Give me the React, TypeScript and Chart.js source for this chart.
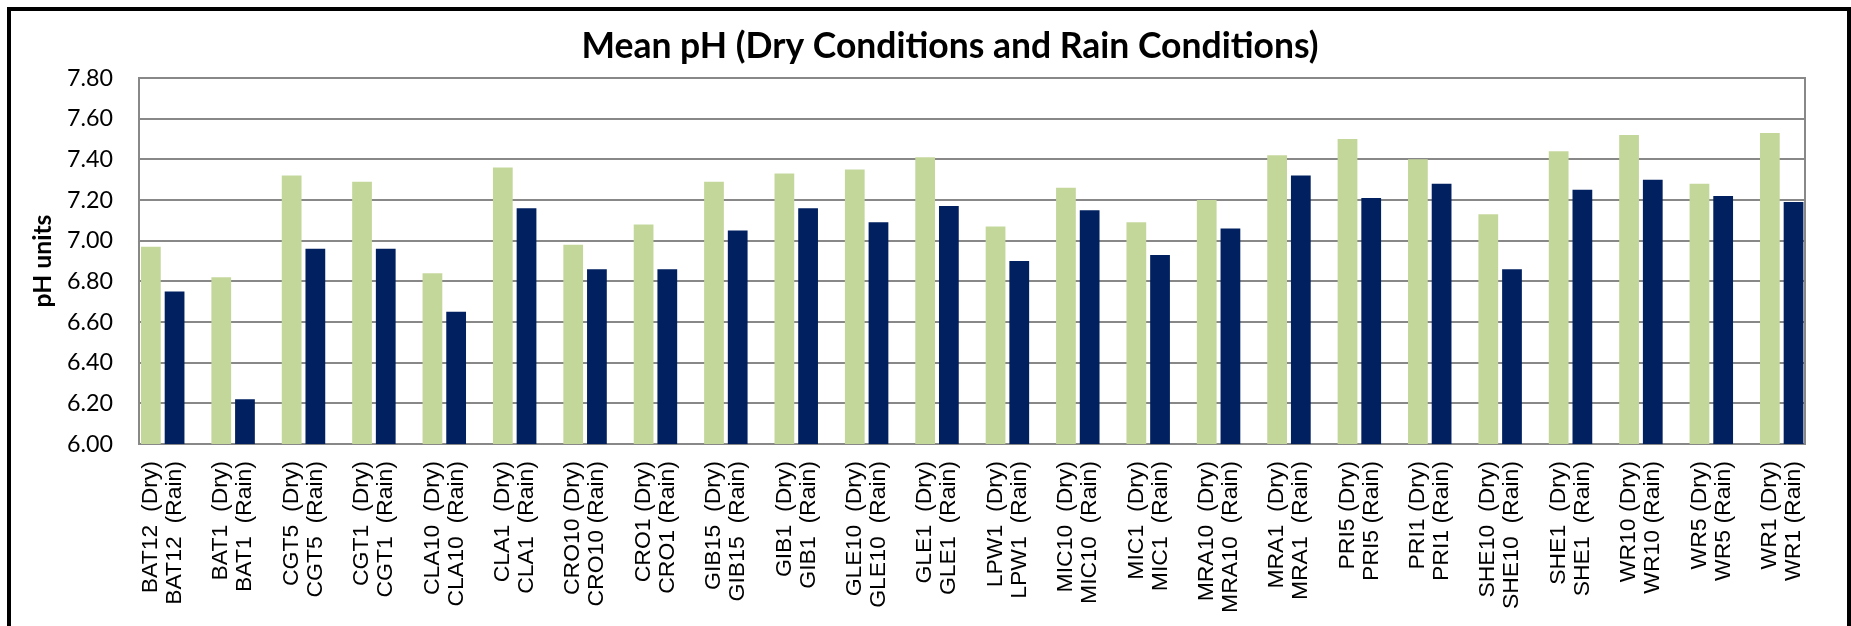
import React, { useEffect, useRef } from 'react';
import { Chart, registerables } from 'chart.js';

Chart.register(...registerables);

const sites = ['BAT12', 'BAT1', 'CGT5', 'CGT1', 'CLA10', 'CLA1', 'CRO10', 'CRO1', 'GIB15', 'GIB1', 'GLE10', 'GLE1', 'LPW1', 'MIC10', 'MIC1', 'MRA10', 'MRA1', 'PRI5', 'PRI1', 'SHE10', 'SHE1', 'WR10', 'WR5', 'WR1'];

const dryTickLabels = ['BAT12  (Dry)', 'BAT1  (Dry)', 'CGT5  (Dry)', 'CGT1  (Dry)', 'CLA10  (Dry)', 'CLA1  (Dry)', 'CRO10 (Dry)', 'CRO1 (Dry)', 'GIB15  (Dry)', 'GIB1  (Dry)', 'GLE10  (Dry)', 'GLE1  (Dry)', 'LPW1  (Dry)', 'MIC10  (Dry)', 'MIC1  (Dry)', 'MRA10  (Dry)', 'MRA1  (Dry)', 'PRI5 (Dry)', 'PRI1 (Dry)', 'SHE10  (Dry)', 'SHE1  (Dry)', 'WR10 (Dry)', 'WR5 (Dry)', 'WR1 (Dry)'];
const rainTickLabels = ['BAT12  (Rain)', 'BAT1  (Rain)', 'CGT5  (Rain)', 'CGT1  (Rain)', 'CLA10  (Rain)', 'CLA1  (Rain)', 'CRO10 (Rain)', 'CRO1 (Rain)', 'GIB15  (Rain)', 'GIB1  (Rain)', 'GLE10  (Rain)', 'GLE1  (Rain)', 'LPW1  (Rain)', 'MIC10  (Rain)', 'MIC1  (Rain)', 'MRA10  (Rain)', 'MRA1  (Rain)', 'PRI5 (Rain)', 'PRI1 (Rain)', 'SHE10  (Rain)', 'SHE1  (Rain)', 'WR10 (Rain)', 'WR5 (Rain)', 'WR1 (Rain)'];

const dryPH = [6.97, 6.82, 7.32, 7.29, 6.84, 7.36, 6.98, 7.08, 7.29, 7.33, 7.35, 7.41, 7.07, 7.26, 7.09, 7.20, 7.42, 7.50, 7.40, 7.13, 7.44, 7.52, 7.28, 7.53];
const rainPH = [6.75, 6.22, 6.96, 6.96, 6.65, 7.16, 6.86, 6.86, 7.05, 7.16, 7.09, 7.17, 6.90, 7.15, 6.93, 7.06, 7.32, 7.21, 7.28, 6.86, 7.25, 7.30, 7.22, 7.19];

const Y_MIN = 6.0;
const Y_MAX = 7.8;
const Y_STEP = 0.2;

const TITLE = 'Mean pH (Dry Conditions and Rain Conditions)';
const Y_TITLE = 'pH units';

// x range (index units) so that the groups sit like in the original plot
const X_MIN = -0.337;
const X_MAX = 23.337;

// font size that makes `text` as wide as `target` px
function fitFontSize(text: string, family: string, weight: string, target: number): number {
  const ctx = document.createElement('canvas').getContext('2d');
  if (!ctx) return 20;
  ctx.font = `${weight} 100px ${family}`;
  const w = ctx.measureText(text).width;
  return w > 0 ? (100 * target) / w : 20;
}

export default function App() {
  const ref = useRef<HTMLCanvasElement | null>(null);

  useEffect(() => {
    const canvas = ref.current;
    if (!canvas) return;

    const titleSize = fitFontSize(TITLE, 'Lato', 'bold', 737);
    const yTitleSize = fitFontSize(Y_TITLE, 'Lato', 'bold', 93);
    const yTickSize = fitFontSize('7.80', 'Lato', 'normal', 46);
    const xTickSize = fitFontSize('CRO10 (Dry)', '"Liberation Sans"', 'normal', 134);

    const chart = new Chart(canvas, {
      type: 'bar',
      data: {
        labels: sites.map((_, i) => i),
        datasets: [
          {
            label: 'Dry',
            data: dryPH,
            backgroundColor: '#C4D79B',
            categoryPercentage: 0.6736,
            barPercentage: 0.8333,
            yAxisID: 'y',
          },
          {
            label: 'Rain',
            data: rainPH,
            backgroundColor: '#002060',
            categoryPercentage: 0.6736,
            barPercentage: 0.8333,
            yAxisID: 'y',
          },
        ],
      },
      options: {
        responsive: false,
        animation: false,
        devicePixelRatio: 1,
        layout: { padding: { left: 0, right: -42, top: 0, bottom: 0 } },
        plugins: {
          legend: { display: false },
          tooltip: { enabled: false },
          title: {
            display: true,
            text: TITLE,
            color: '#000',
            font: { family: 'Lato', size: titleSize, weight: 'bold', lineHeight: 1.2 },
            padding: { top: 36 - 0.6 * titleSize, bottom: 31 - 0.6 * titleSize },
          },
        },
        scales: {
          x: {
            type: 'linear',
            min: X_MIN,
            max: X_MAX,
            bounds: 'data',
            offset: false,
            grid: { display: false, drawTicks: false, tickLength: 0 },
            border: { display: true, color: '#888888', width: 2 },
            ticks: {
              autoSkip: false,
              minRotation: 90,
              maxRotation: 90,
              padding: 17,
              labelOffset: -12,
              color: '#000',
              font: { family: 'Liberation Sans', size: xTickSize, lineHeight: 24 / xTickSize },
              callback: (v: any) => {
                const i = Math.round(Number(v));
                return [dryTickLabels[i], rainTickLabels[i]];
              },
            },
            afterBuildTicks: (s: any) => {
              s.ticks = sites.map((_, i) => ({ value: i }));
            },
            afterFit: (s: any) => {
              s.height = 182;
            },
          },
          y: {
            type: 'linear',
            position: 'left',
            min: Y_MIN,
            max: Y_MAX,
            grid: { color: '#888888', lineWidth: 2, drawTicks: false, tickLength: 0 },
            border: { display: true, color: '#888888', width: 2 },
            ticks: {
              stepSize: Y_STEP,
              padding: 26,
              color: '#000',
              font: { family: 'Lato', size: yTickSize },
              callback: (v: any) => Number(v).toFixed(2),
            },
            title: {
              display: true,
              text: Y_TITLE,
              color: '#000',
              font: { family: 'Lato', size: yTitleSize, weight: 'bold', lineHeight: 1.2 },
              padding: { top: 32 - 0.6 * yTitleSize, bottom: 0 },
            },
            afterFit: (s: any) => {
              s.width = 128;
            },
          },
          y2: {
            type: 'linear',
            position: 'right',
            display: true,
            ticks: { display: false },
            grid: { display: false, drawTicks: false, tickLength: 0 },
            border: { display: true, color: '#888888', width: 2 },
            afterFit: (s: any) => {
              s.width = 63;
            },
          },
        },
      } as any,
    });
    return () => chart.destroy();
  }, []);

  return (
    <div
      style={{
        position: 'absolute',
        left: 7,
        top: 7,
        width: 1844,
        height: 619,
        boxSizing: 'border-box',
        borderTop: '4px solid #000',
        borderLeft: '4px solid #000',
        borderRight: '4px solid #000',
        background: '#fff',
        overflow: 'hidden',
      }}
    >
      <canvas ref={ref} width={1836} height={615} style={{ display: 'block' }} />
    </div>
  );
}
